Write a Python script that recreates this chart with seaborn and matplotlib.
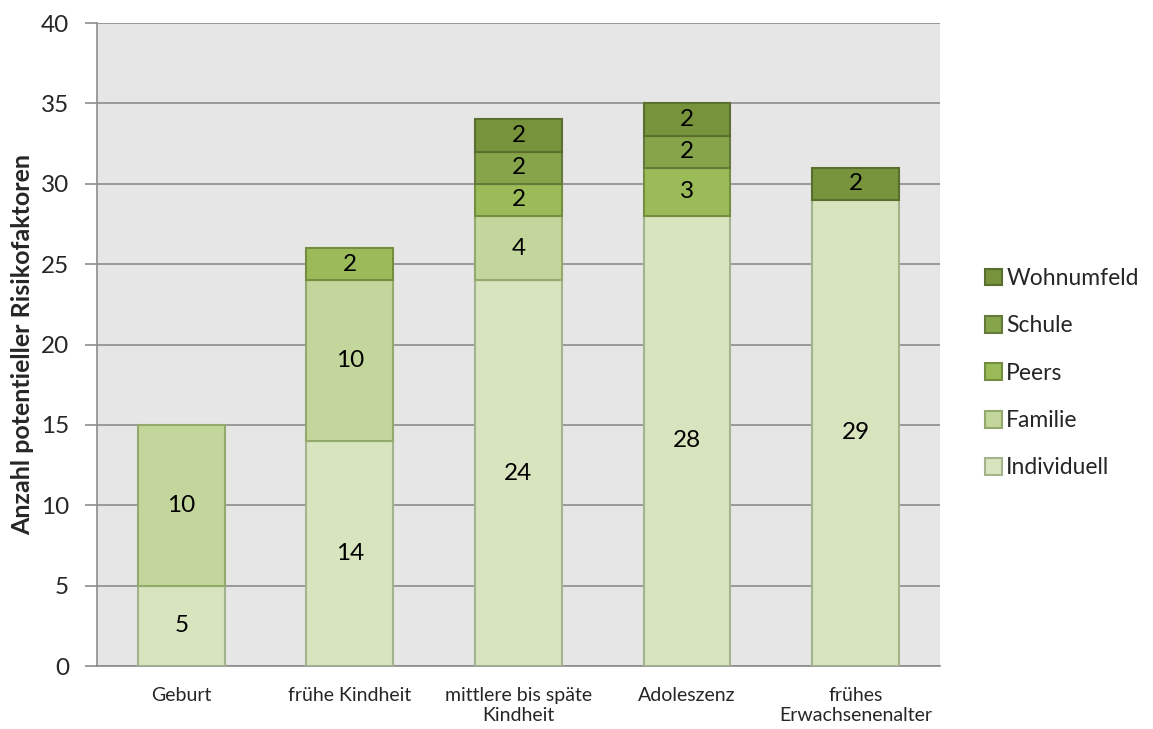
import numpy as np
import pandas as pd
import matplotlib
matplotlib.use("Agg")
import matplotlib.pyplot as plt
import seaborn as sns
from matplotlib.patches import Patch

# ---- data
stages = ["Geburt", "frühe Kindheit", "mittlere bis späte\nKindheit",
          "Adoleszenz", "frühes\nErwachsenenalter"]
individuell = [5, 14, 24, 28, 29]
familie = [10, 10, 4, 0, 0]
peers = [0, 2, 2, 3, 0]
schule = [0, 0, 2, 2, 0]
wohnumfeld = [0, 0, 2, 2, 2]

layers = ["Individuell", "Familie", "Peers", "Schule", "Wohnumfeld"]
values = [individuell, familie, peers, schule, wohnumfeld]
fills = ["#D7E4BD", "#C3D69B", "#9BBB59", "#86A44A", "#77933C"]
edges = ["#A3B38E", "#93AA6C", "#748D40", "#65793A", "#5A6F2E"]

sns.set_theme(style="white")
plt.rcParams["font.family"] = ["Lato", "DejaVu Sans"]

fig = plt.figure(figsize=(11.53, 7.29), dpi=100)
ax = fig.add_axes([0.0841, 0.0864, 0.7311, 0.8820])
ax.set_facecolor("#E6E6E6")

bottom = np.zeros(len(stages))
for name, vals, fc, ec in zip(layers, values, fills, edges):
    df = pd.DataFrame({"stage": stages, "n": vals})
    sns.barplot(data=df, x="stage", y="n", color=fc, saturation=1,
                width=0.515, bottom=bottom.copy(), edgecolor=ec,
                linewidth=1.5, ax=ax, zorder=3)
    # empty segments should not leave an outline behind
    for patch, v in zip(ax.containers[-1], vals):
        if v == 0:
            patch.set_visible(False)
    for i, v in enumerate(vals):
        if v > 0:
            ax.text(i, bottom[i] + v / 2, str(v), ha="center", va="center",
                    fontsize=17.5, color="black", zorder=4)
    bottom += np.array(vals)

ax.set_ylim(0, 40)
ax.set_xlim(-0.5, len(stages) - 0.5)
ax.set_yticks(range(0, 41, 5))
ax.yaxis.grid(True, color="#8C8C8C", linewidth=1.2, zorder=0)
ax.set_axisbelow(True)
for s in ["top", "right"]:
    ax.spines[s].set_visible(False)
for s in ["left", "bottom"]:
    ax.spines[s].set_color("#8C8C8C")
    ax.spines[s].set_linewidth(1.2)
ax.tick_params(axis="y", length=9, width=1.2, color="#8C8C8C",
               labelsize=17.5, pad=11, left=True)
ax.tick_params(axis="x", length=0, labelsize=14, pad=15)
ax.set_xlabel("")
ax.set_ylabel("Anzahl potentieller Risikofaktoren", fontsize=18,
              fontweight="bold", labelpad=5)

handles = [Patch(facecolor=fc, edgecolor=ec, linewidth=1.5, label=n)
           for n, fc, ec in zip(layers, fills, edges)][::-1]
fig.legend(handles=handles, loc="center left", bbox_to_anchor=(0.836, 0.488),
           frameon=False, fontsize=16.5, handlelength=0.75, handleheight=0.75,
           handletextpad=0.2, labelspacing=1.15)

fig.savefig("out.png", dpi=100)
